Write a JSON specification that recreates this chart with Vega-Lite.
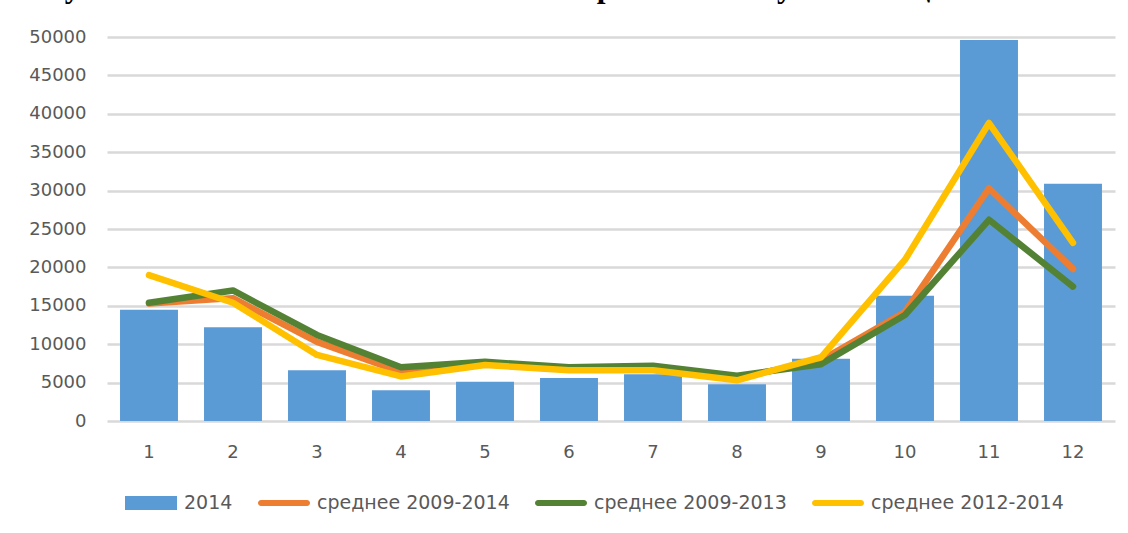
{
  "$schema": "https://vega.github.io/schema/vega-lite/v6.json",
  "width": 1008,
  "height": 384,
  "autosize": "none",
  "padding": {"left": 107, "top": 37, "right": 13, "bottom": 112},
  "background": "white",
  "title": {
    "text": "Рисунок 4.4. Колебания в количестве запросов на получение социального пособия",
    "anchor": "start",
    "orient": "top",
    "font": "Liberation Serif",
    "fontSize": 31.5,
    "fontWeight": "bold",
    "color": "black",
    "baseline": "alphabetic",
    "offset": 0,
    "limit": 2000,
    "dx": -15,
    "dy": 0
  },
  "config": {
    "view": {"stroke": null},
    "axis": {
      "labelFont": "DejaVu Sans",
      "labelFontSize": 18,
      "labelColor": "#595959",
      "ticks": false,
      "domain": false,
      "title": null
    },
    "legend": {
      "labelFont": "DejaVu Sans",
      "labelFontSize": 19,
      "labelColor": "#595959",
      "labelLimit": 400
    }
  },
  "data": {
    "values": [
      {"month": 1, "series": "2014", "value": 14500},
      {"month": 2, "series": "2014", "value": 12200},
      {"month": 3, "series": "2014", "value": 6600},
      {"month": 4, "series": "2014", "value": 4000},
      {"month": 5, "series": "2014", "value": 5100},
      {"month": 6, "series": "2014", "value": 5600},
      {"month": 7, "series": "2014", "value": 6100},
      {"month": 8, "series": "2014", "value": 4800},
      {"month": 9, "series": "2014", "value": 8100},
      {"month": 10, "series": "2014", "value": 16300},
      {"month": 11, "series": "2014", "value": 49600},
      {"month": 12, "series": "2014", "value": 30900},
      {"month": 1, "series": "среднее 2009-2014", "value": 15300},
      {"month": 2, "series": "среднее 2009-2014", "value": 16000},
      {"month": 3, "series": "среднее 2009-2014", "value": 10300},
      {"month": 4, "series": "среднее 2009-2014", "value": 6400},
      {"month": 5, "series": "среднее 2009-2014", "value": 7400},
      {"month": 6, "series": "среднее 2009-2014", "value": 6700},
      {"month": 7, "series": "среднее 2009-2014", "value": 6900},
      {"month": 8, "series": "среднее 2009-2014", "value": 5600},
      {"month": 9, "series": "среднее 2009-2014", "value": 7900},
      {"month": 10, "series": "среднее 2009-2014", "value": 14200},
      {"month": 11, "series": "среднее 2009-2014", "value": 30300},
      {"month": 12, "series": "среднее 2009-2014", "value": 19800},
      {"month": 1, "series": "среднее 2009-2013", "value": 15400},
      {"month": 2, "series": "среднее 2009-2013", "value": 17000},
      {"month": 3, "series": "среднее 2009-2013", "value": 11200},
      {"month": 4, "series": "среднее 2009-2013", "value": 7000},
      {"month": 5, "series": "среднее 2009-2013", "value": 7700},
      {"month": 6, "series": "среднее 2009-2013", "value": 7000},
      {"month": 7, "series": "среднее 2009-2013", "value": 7200},
      {"month": 8, "series": "среднее 2009-2013", "value": 5900},
      {"month": 9, "series": "среднее 2009-2013", "value": 7400},
      {"month": 10, "series": "среднее 2009-2013", "value": 13800},
      {"month": 11, "series": "среднее 2009-2013", "value": 26200},
      {"month": 12, "series": "среднее 2009-2013", "value": 17500},
      {"month": 1, "series": "среднее 2012-2014", "value": 19000},
      {"month": 2, "series": "среднее 2012-2014", "value": 15400},
      {"month": 3, "series": "среднее 2012-2014", "value": 8600},
      {"month": 4, "series": "среднее 2012-2014", "value": 5800},
      {"month": 5, "series": "среднее 2012-2014", "value": 7300},
      {"month": 6, "series": "среднее 2012-2014", "value": 6600},
      {"month": 7, "series": "среднее 2012-2014", "value": 6600},
      {"month": 8, "series": "среднее 2012-2014", "value": 5300},
      {"month": 9, "series": "среднее 2012-2014", "value": 8300},
      {"month": 10, "series": "среднее 2012-2014", "value": 21000},
      {"month": 11, "series": "среднее 2012-2014", "value": 38800},
      {"month": 12, "series": "среднее 2012-2014", "value": 23200}
    ]
  },
  "encoding": {
    "x": {
      "field": "month",
      "type": "ordinal",
      "scale": {"paddingInner": 0.31, "paddingOuter": 0.155},
      "axis": {"labelAngle": 0, "labelPadding": 22, "grid": false}
    },
    "y": {
      "field": "value",
      "type": "quantitative",
      "scale": {"domain": [0, 50000], "nice": false},
      "axis": {
        "values": [0, 5000, 10000, 15000, 20000, 25000, 30000, 35000, 40000, 45000, 50000],
        "format": "d",
        "labelPadding": 21,
        "grid": true,
        "gridColor": "#d9d9d9",
        "gridWidth": 2.5
      }
    },
    "color": {
      "field": "series",
      "type": "nominal",
      "scale": {
        "domain": ["2014", "среднее 2009-2014", "среднее 2009-2013", "среднее 2012-2014"],
        "range": ["#5B9BD5", "#ED7D31", "#548235", "#FFC000"]
      },
      "legend": {
        "title": null,
        "orient": "none",
        "direction": "horizontal",
        "legendX": 18,
        "legendY": 440,
        "padding": 0,
        "columnPadding": 25,
        "labelOffset": 7,
        "labelLimit": 400,
        "symbolSize": 2704,
        "encode": {
          "symbols": {
            "update": {
              "shape": {"signal": "datum.value === '2014' ? 'M-1,-0.27H1V0.27H-1Z' : 'M-0.885,-0.115H0.885A0.115,0.115 0 0 1 0.885,0.115H-0.885A0.115,0.115 0 0 1 -0.885,-0.115Z'"},
              "fill": {"signal": "scale('color', datum.value)"},
              "stroke": {"value": "transparent"},
              "strokeWidth": {"value": 0},
              "opacity": {"value": 1},
              "fillOpacity": {"value": 1}
            }
          }
        }
      }
    }
  },
  "layer": [
    {
      "transform": [{"filter": "datum.series === '2014'"}],
      "mark": {"type": "bar"}
    },
    {
      "transform": [{"filter": "datum.series !== '2014'"}],
      "mark": {"type": "line", "strokeWidth": 6.5, "strokeCap": "round", "strokeJoin": "round"}
    }
  ]
}
